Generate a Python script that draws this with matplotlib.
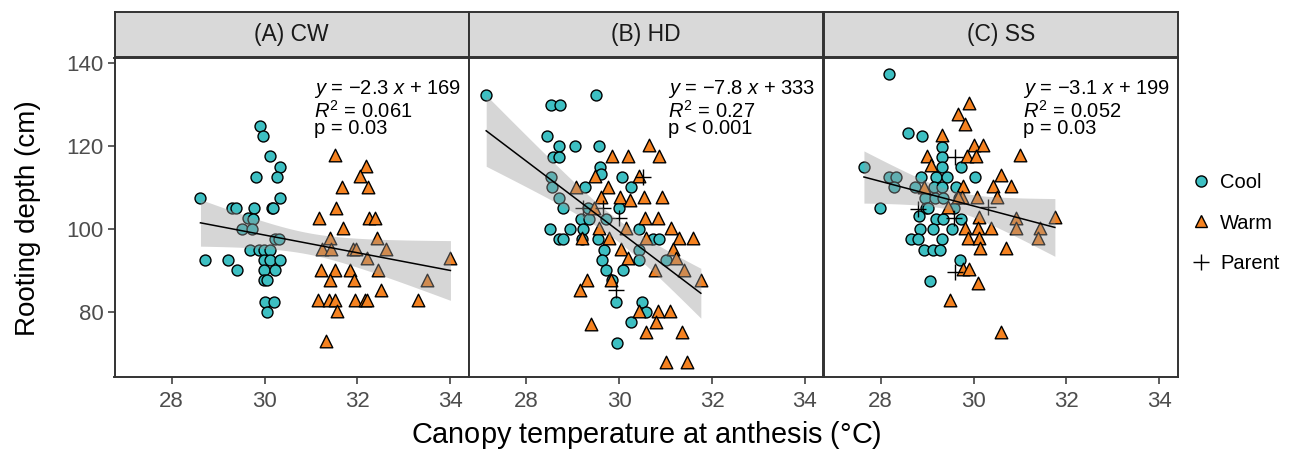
import numpy as np
import matplotlib
matplotlib.use("Agg")
import matplotlib.pyplot as plt
from matplotlib.lines import Line2D

plt.rcParams['font.family'] = ['Liberation Sans', 'DejaVu Sans']
plt.rcParams['mathtext.fontset'] = 'custom'
plt.rcParams['mathtext.rm'] = 'Liberation Sans'
plt.rcParams['mathtext.it'] = 'Liberation Sans:italic'
plt.rcParams['mathtext.bf'] = 'Liberation Sans:bold'

panels = ["(A) CW", "(B) HD", "(C) SS"]
eq_labels = [
    ["$y$ = \u22122.3 $x$ + 169", "$R^2$ = 0.061", "p = 0.03"],
    ["$y$ = \u22127.8 $x$ + 333", "$R^2$ = 0.27", "p < 0.001"],
    ["$y$ = \u22123.1 $x$ + 199", "$R^2$ = 0.052", "p = 0.03"],
]

# Panel A (CW)
cw_cool_x = [29.91, 29.96, 30.11, 30.33, 29.81, 30.27, 28.62, 30.33, 29.29, 29.38, 29.78, 30.15,
             30.19, 29.65, 29.75, 29.51, 29.72, 30.22, 30.32, 29.68, 29.89, 29.98, 30.12, 28.72,
             29.21, 29.98, 30.12, 30.33, 29.40, 29.98, 30.22, 29.98, 30.06, 30.00, 30.20, 30.05]
cw_cool_y = [124.8, 122.4, 117.5, 115.0, 112.5, 112.5, 107.5, 107.5, 105.0, 105.0, 105.0, 105.0,
             105.0, 102.6, 102.4, 100.0, 100.0, 97.6, 97.6, 95.0, 95.0, 95.0, 95.0, 92.6,
             92.6, 92.6, 92.6, 92.6, 90.1, 90.1, 90.1, 87.7, 87.7, 82.4, 82.4, 80.0]
cw_warm_x = [31.51, 32.18, 32.06, 31.67, 32.22, 31.53, 31.18, 32.24, 32.37, 31.68, 31.41, 32.41,
             31.24, 31.42, 31.90, 31.97, 32.61, 32.21, 34.00, 31.21, 31.51, 31.83, 32.45, 31.41,
             31.93, 33.49, 32.51, 31.15, 31.39, 31.52, 31.94, 32.16, 32.20, 33.30, 31.56, 31.32]
cw_warm_y = [117.8, 115.2, 112.8, 110.1, 110.1, 105.1, 102.6, 102.6, 102.6, 100.2, 97.8, 97.8,
             95.2, 95.2, 95.2, 95.2, 95.2, 93.0, 93.0, 90.2, 90.2, 90.2, 90.2, 87.7,
             87.7, 87.8, 85.3, 82.9, 82.9, 82.9, 82.9, 82.9, 82.9, 82.9, 80.3, 73.1]
cw_parent_x = []
cw_parent_y = []

# Panel B (HD)
hd_cool_x = [27.14, 28.53, 28.73, 29.51, 28.45, 28.70, 29.06, 29.57, 28.57, 28.70, 29.58, 29.61,
             30.06, 28.53, 28.56, 29.27, 30.25, 28.70, 28.80, 29.34, 30.00, 29.18, 29.35, 29.71,
             28.52, 28.94, 29.23, 30.42, 28.70, 28.80, 29.21, 29.54, 30.74, 30.87, 29.68, 30.43,
             31.01, 29.64, 30.43, 29.71, 30.08, 29.85, 29.93, 30.49, 30.58, 30.25, 29.96]
hd_cool_y = [132.3, 129.8, 129.8, 132.3, 122.4, 120.0, 120.0, 120.0, 117.4, 117.4, 115.0, 113.3,
             112.5, 112.5, 110.1, 110.1, 110.1, 107.5, 105.0, 105.0, 105.0, 102.4, 102.4, 102.4,
             100.0, 100.0, 100.0, 100.0, 97.6, 97.6, 97.6, 97.6, 97.6, 97.6, 95.0, 95.0,
             92.6, 92.6, 92.6, 90.1, 90.1, 87.7, 82.4, 82.4, 80.0, 77.6, 72.6]
hd_warm_x = [30.64, 29.85, 30.20, 30.87, 30.42, 29.49, 29.07, 29.76, 29.62, 30.03, 30.23, 30.53,
             30.92, 29.47, 30.56, 30.83, 29.57, 30.15, 31.12, 29.21, 29.79, 30.58, 31.29, 31.59,
             30.05, 31.17, 30.19, 31.22, 30.78, 31.39, 31.76, 29.83, 29.30, 29.15, 30.42, 30.84,
             31.09, 30.80, 30.58, 31.35, 29.40, 31.00, 31.46]
hd_warm_y = [120.3, 117.6, 117.6, 117.6, 112.8, 112.8, 110.1, 110.2, 107.7, 107.7, 107.0, 107.7,
             107.7, 105.0, 102.7, 102.7, 100.2, 100.2, 100.2, 97.8, 97.8, 97.8, 97.8, 97.8,
             95.2, 95.2, 93.0, 93.0, 90.2, 90.2, 87.8, 87.7, 87.7, 85.4, 80.3, 80.3,
             80.3, 77.8, 75.4, 75.4, 77.3, 68.0, 68.0]
hd_parent_x = [30.51, 29.65, 29.99, 29.23, 29.93]
hd_parent_y = [112.5, 105.1, 102.7, 105.0, 85.4]

# Panel C (SS)
ss_cool_x = [28.19, 28.59, 28.89, 29.32, 29.32, 29.32, 29.74, 27.64, 28.87, 29.20, 29.42, 30.03,
             28.18, 28.32, 28.29, 28.73, 29.15, 29.32, 29.62, 28.96, 29.17, 29.34, 29.69, 28.97,
             29.57, 27.98, 29.01, 28.83, 29.20, 29.35, 29.74, 28.84, 29.13, 29.54, 28.66, 28.81,
             29.32, 28.93, 29.13, 29.27, 29.71, 29.07]
ss_cool_y = [137.3, 123.2, 122.4, 119.8, 117.4, 115.0, 114.9, 114.9, 112.5, 112.5, 112.5, 112.5,
             112.5, 112.5, 110.1, 110.1, 110.1, 110.1, 110.1, 107.5, 107.5, 107.5, 107.5, 105.1,
             105.0, 105.0, 105.0, 103.2, 102.4, 102.4, 102.4, 100.0, 100.0, 100.0, 97.6, 97.6,
             97.6, 95.0, 95.0, 95.0, 92.6, 87.5]
ss_warm_x = [29.91, 29.66, 29.81, 29.31, 30.00, 30.20, 31.01, 28.99, 29.86, 30.06, 29.08, 30.58,
             30.41, 30.80, 29.78, 28.94, 29.76, 30.07, 30.50, 29.66, 29.44, 30.12, 31.75, 30.91,
             29.81, 30.10, 30.37, 30.91, 31.42, 29.87, 30.12, 31.38, 30.14, 30.70, 29.78, 29.91,
             30.09, 29.49, 30.60]
ss_warm_y = [130.2, 127.7, 125.3, 122.6, 120.3, 120.3, 117.9, 117.6, 117.6, 117.6, 115.4, 112.9,
             110.4, 110.4, 110.4, 110.1, 107.8, 107.8, 107.8, 107.8, 105.4, 103.0, 102.9, 102.7,
             100.3, 100.3, 100.3, 100.3, 100.3, 97.8, 97.8, 97.8, 95.4, 95.4, 90.4, 90.4,
             87.0, 82.9, 75.4]
ss_parent_x = [29.59, 30.32, 28.81, 29.58, 29.59]
ss_parent_y = [117.4, 105.3, 104.8, 102.6, 89.8]

data = [
    (cw_cool_x, cw_cool_y, cw_warm_x, cw_warm_y, cw_parent_x, cw_parent_y),
    (hd_cool_x, hd_cool_y, hd_warm_x, hd_warm_y, hd_parent_x, hd_parent_y),
    (ss_cool_x, ss_cool_y, ss_warm_x, ss_warm_y, ss_parent_x, ss_parent_y),
]

x_ticks = [28, 30, 32, 34]
y_ticks = [80, 100, 120, 140]

COOL = "#3DBFC2"
WARM = "#F58220"
DARK = "#333333"
TICKC = "#4D4D4D"


def tquant(df):
    z = 1.959964
    return z + (z**3 + z) / (4 * df) + (5 * z**5 + 16 * z**3 + 3 * z) / (96 * df**2)


def fit_band(x, y, n=80):
    x = np.asarray(x, float)
    y = np.asarray(y, float)
    b, a = np.polyfit(x, y, 1)
    res = y - (a + b * x)
    df = len(x) - 2
    s = np.sqrt(np.sum(res**2) / df)
    xm = x.mean()
    sxx = np.sum((x - xm) ** 2)
    xs = np.linspace(x.min(), x.max(), n)
    yh = a + b * xs
    se = s * np.sqrt(1 / len(x) + (xs - xm) ** 2 / sxx)
    t = tquant(df)
    return xs, yh, yh - t * se, yh + t * se


W, H = 1297, 449
fig = plt.figure(figsize=(W / 100, H / 100), dpi=100)

left0 = 114.5
pw = 354.5
ptop = 58
pbot = 377
stop = 12

for i in range(3):
    l = (left0 + i * pw) / W
    ax = fig.add_axes([l, 1 - pbot / H, pw / W, (pbot - ptop) / H])
    cx, cy, wx, wy, px, py = data[i]
    ax.scatter(cx, cy, s=62, marker='o', facecolor=COOL, edgecolor='black', linewidth=1.0, zorder=3)
    ax.scatter(wx, wy, s=82, marker='^', facecolor=WARM, edgecolor='black', linewidth=1.0, zorder=3)
    if len(px):
        ax.scatter(px, py, s=120, marker='+', color='black', linewidth=1.0, zorder=3)
    xs, yh, lo, hi = fit_band(list(cx) + list(wx), list(cy) + list(wy))
    ax.fill_between(xs, lo, hi, color='#999999', alpha=0.4, linewidth=0, zorder=4)
    ax.plot(xs, yh, color='black', linewidth=1.1, zorder=5)
    ax.set_xlim(26.77, 34.4)
    ax.set_ylim(64.5, 141.1)
    ax.set_xticks(x_ticks)
    ax.set_yticks(y_ticks)
    ax.tick_params(axis='both', colors=DARK, length=5, width=1.1, labelsize=16,
                   labelcolor=TICKC)
    ax.tick_params(axis='x', pad=5)
    ax.tick_params(axis='y', pad=3)
    if i > 0:
        ax.tick_params(axis='y', labelleft=False, left=False)
    for sp in ax.spines.values():
        sp.set_color(DARK)
        sp.set_linewidth(1.4)
    lines = eq_labels[i]
    for j, (txt, yy) in enumerate(zip(lines, [0.913, 0.842, 0.785])):
        ax.text(0.562, yy, txt, transform=ax.transAxes, fontsize=14.5, ha='left',
                va='center_baseline', color='black')
    # strip
    sax = fig.add_axes([l, 1 - (ptop - 1) / H, pw / W, (ptop - 1 - stop) / H])
    sax.set_facecolor('#D9D9D9')
    sax.set_xticks([])
    sax.set_yticks([])
    for sp in sax.spines.values():
        sp.set_color(DARK)
        sp.set_linewidth(1.4)
    sax.text(0.5, 0.5, panels[i], transform=sax.transAxes, ha='center', va='center',
             fontsize=16.5, color='#1A1A1A')

fig.text(646 / W, 1 - 435 / H, "Canopy temperature at anthesis ($\\degree$C)", ha='center', va='center',
         fontsize=20.8)
fig.text(28 / W, 1 - 218 / H, "Rooting depth (cm)", ha='center', va='center', rotation=90,
         fontsize=20)

handles = [
    Line2D([], [], marker='o', linestyle='', markerfacecolor=COOL, markeredgecolor='black',
           markersize=8, markeredgewidth=1.0, label='Cool'),
    Line2D([], [], marker='^', linestyle='', markerfacecolor=WARM, markeredgecolor='black',
           markersize=9, markeredgewidth=1.0, label='Warm'),
    Line2D([], [], marker='+', linestyle='', color='black', markersize=12,
           markeredgewidth=1.0, label='Parent'),
]
fig.legend(handles=handles, loc='center left', bbox_to_anchor=(1181 / W, 1 - 223 / H),
           frameon=False, fontsize=14.5, handletextpad=0.35, labelspacing=1.05,
           handlelength=1.2, borderaxespad=0)

fig.savefig("out.png", dpi=100)
